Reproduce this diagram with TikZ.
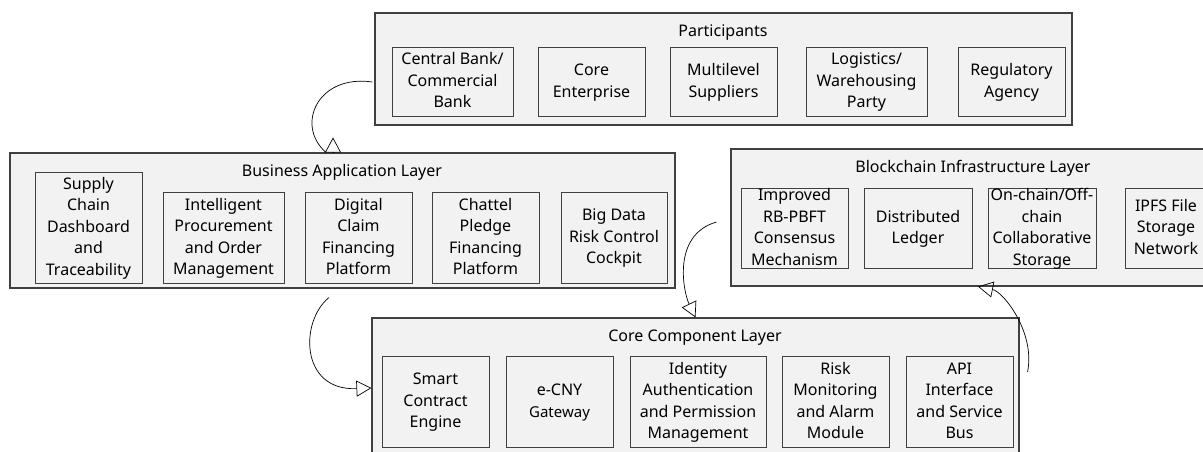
\documentclass[tikz,border=0pt]{standalone}
\usepackage{fontspec}
\setmainfont{Noto Sans}
\usepackage{tikz}
\usetikzlibrary{arrows.meta}
\definecolor{boxfill}{HTML}{F2F2F2}
\definecolor{boxline}{HTML}{404040}
\newcommand{\cell}[1]{\raisebox{-5pt}[0pt][0pt]{\begin{tabular}{@{}c@{}}#1\end{tabular}}}
\tikzstyle{tierbox}=[draw=boxline,fill=boxfill,line width=1.1pt,inner sep=0pt]
\tikzstyle{unitbox}=[draw=boxline,fill=boxfill,line width=0.9pt,inner sep=0pt]
\tikzstyle{title}=[inner sep=0pt,anchor=base]
\tikzstyle{link}=[draw=black,line width=0.7pt]
\tikzstyle{opentip}=[-{Triangle[open,length=15pt,width=16pt]}]

\begin{document}
\begin{tikzpicture}[x=1pt,y=-1pt,font=\fontsize{16}{21.5}\selectfont]
  \useasboundingbox (0,0) rectangle (1203,451);
  % layers
  \node[tierbox,minimum width=697pt,minimum height=112pt] (part) at (723.5,69) {};
  \node[tierbox,minimum width=665pt,minimum height=135pt] (bus) at (342.5,220.5) {};
  \node[tierbox,minimum width=486pt,minimum height=137pt] (bci) at (974,217.5) {};
  \node[tierbox,minimum width=647pt,minimum height=140pt] (ccl) at (695.5,388) {};
  \node[title] (part-t) at (723,36) {Participants};
  \node[title] (bus-t) at (342,176.5) {Business Application Layer};
  \node[title] (bci-t) at (973,172) {Blockchain Infrastructure Layer};
  \node[title] (ccl-t) at (695,341.5) {Core Component Layer};
  % participants
  \node[unitbox,minimum width=121pt,minimum height=69pt] (cb) at (452.5,81.5) {\cell{Central Bank/\\Commercial\\Bank}};
  \node[unitbox,minimum width=107pt,minimum height=69pt] (ce) at (591.5,81.5) {\cell{Core\\Enterprise}};
  \node[unitbox,minimum width=107pt,minimum height=69pt] (ms) at (723.5,81.5) {\cell{Multilevel\\Suppliers}};
  \node[unitbox,minimum width=121pt,minimum height=69pt] (lw) at (866.5,81.5) {\cell{Logistics/\\Warehousing\\Party}};
  \node[unitbox,minimum width=107pt,minimum height=69pt] (ra) at (1011.5,81.5) {\cell{Regulatory\\Agency}};
  % business application
  \node[unitbox,minimum width=107pt,minimum height=111pt] (sc) at (88.5,227.5) {\cell{Supply\\Chain\\Dashboard\\and\\Traceability}};
  \node[unitbox,minimum width=121pt,minimum height=91pt] (ip) at (223.5,237.5) {\cell{Intelligent\\Procurement\\and Order\\Management}};
  \node[unitbox,minimum width=107pt,minimum height=91pt] (dc) at (358.5,237.5) {\cell{Digital\\Claim\\Financing\\Platform}};
  \node[unitbox,minimum width=107pt,minimum height=91pt] (cp) at (485.5,237.5) {\cell{Chattel\\Pledge\\Financing\\Platform}};
  \node[unitbox,minimum width=106pt,minimum height=91pt] (bd) at (614,237.5) {\cell{Big Data\\Risk Control\\Cockpit}};
  % blockchain infrastructure
  \node[unitbox,minimum width=107pt,minimum height=80pt] (ir) at (794.5,228) {\cell{Improved\\RB-PBFT\\Consensus\\Mechanism}};
  \node[unitbox,minimum width=108pt,minimum height=80pt] (dl) at (918,228) {\cell{Distributed\\Ledger}};
  \node[unitbox,minimum width=108pt,minimum height=80pt] (oc) at (1042,228) {\cell{On-chain/Off-\\chain\\Collaborative\\Storage}};
  \node[unitbox,minimum width=82pt,minimum height=80pt] (fs) at (1166,228) {\cell{IPFS File\\Storage\\Network}};
  % core components
  \node[unitbox,minimum width=107pt,minimum height=91pt] (sm) at (435.5,401.5) {\cell{Smart\\Contract\\Engine}};
  \node[unitbox,minimum width=107pt,minimum height=91pt] (ec) at (559.5,401.5) {\cell{e-CNY\\{\fontsize{15}{17}\selectfont Gateway}}};
  \node[unitbox,minimum width=136pt,minimum height=91pt] (ia) at (698,401.5) {\cell{Identity\\Authentication\\and Permission\\Management}};
  \node[unitbox,minimum width=107pt,minimum height=91pt] (rm) at (835.5,401.5) {\cell{Risk\\Monitoring\\and Alarm\\Module}};
  \node[unitbox,minimum width=107pt,minimum height=91pt] (ap) at (959.5,401.5) {\cell{API\\Interface\\and Service\\Bus}};
  % connectors
  \draw[link] ([xshift=-2pt,yshift=-13pt]part.west) .. controls +(-55,-8) and +(-31,-27) .. ([xshift=-16.5pt]bus.north);
  \draw[link,opentip] ([xshift=-9.5pt]bus.north) -- ++(0,-15);
  \draw[link,opentip] ([xshift=-13.5pt,yshift=-9pt]bus.south) .. controls +(-29,23) and +(-72,3) .. (ccl.west);
  \draw[link,opentip] ([xshift=-14pt,yshift=-4.5pt]bci.west) .. controls +(-45,13) and +(-12,-25) .. (ccl.north);
  \draw[link,opentip] ([xshift=8pt,yshift=16pt]ccl.east) .. controls +(8,-40) and +(25,5) .. ([xshift=4pt]bci.south);
\end{tikzpicture}
\end{document}
